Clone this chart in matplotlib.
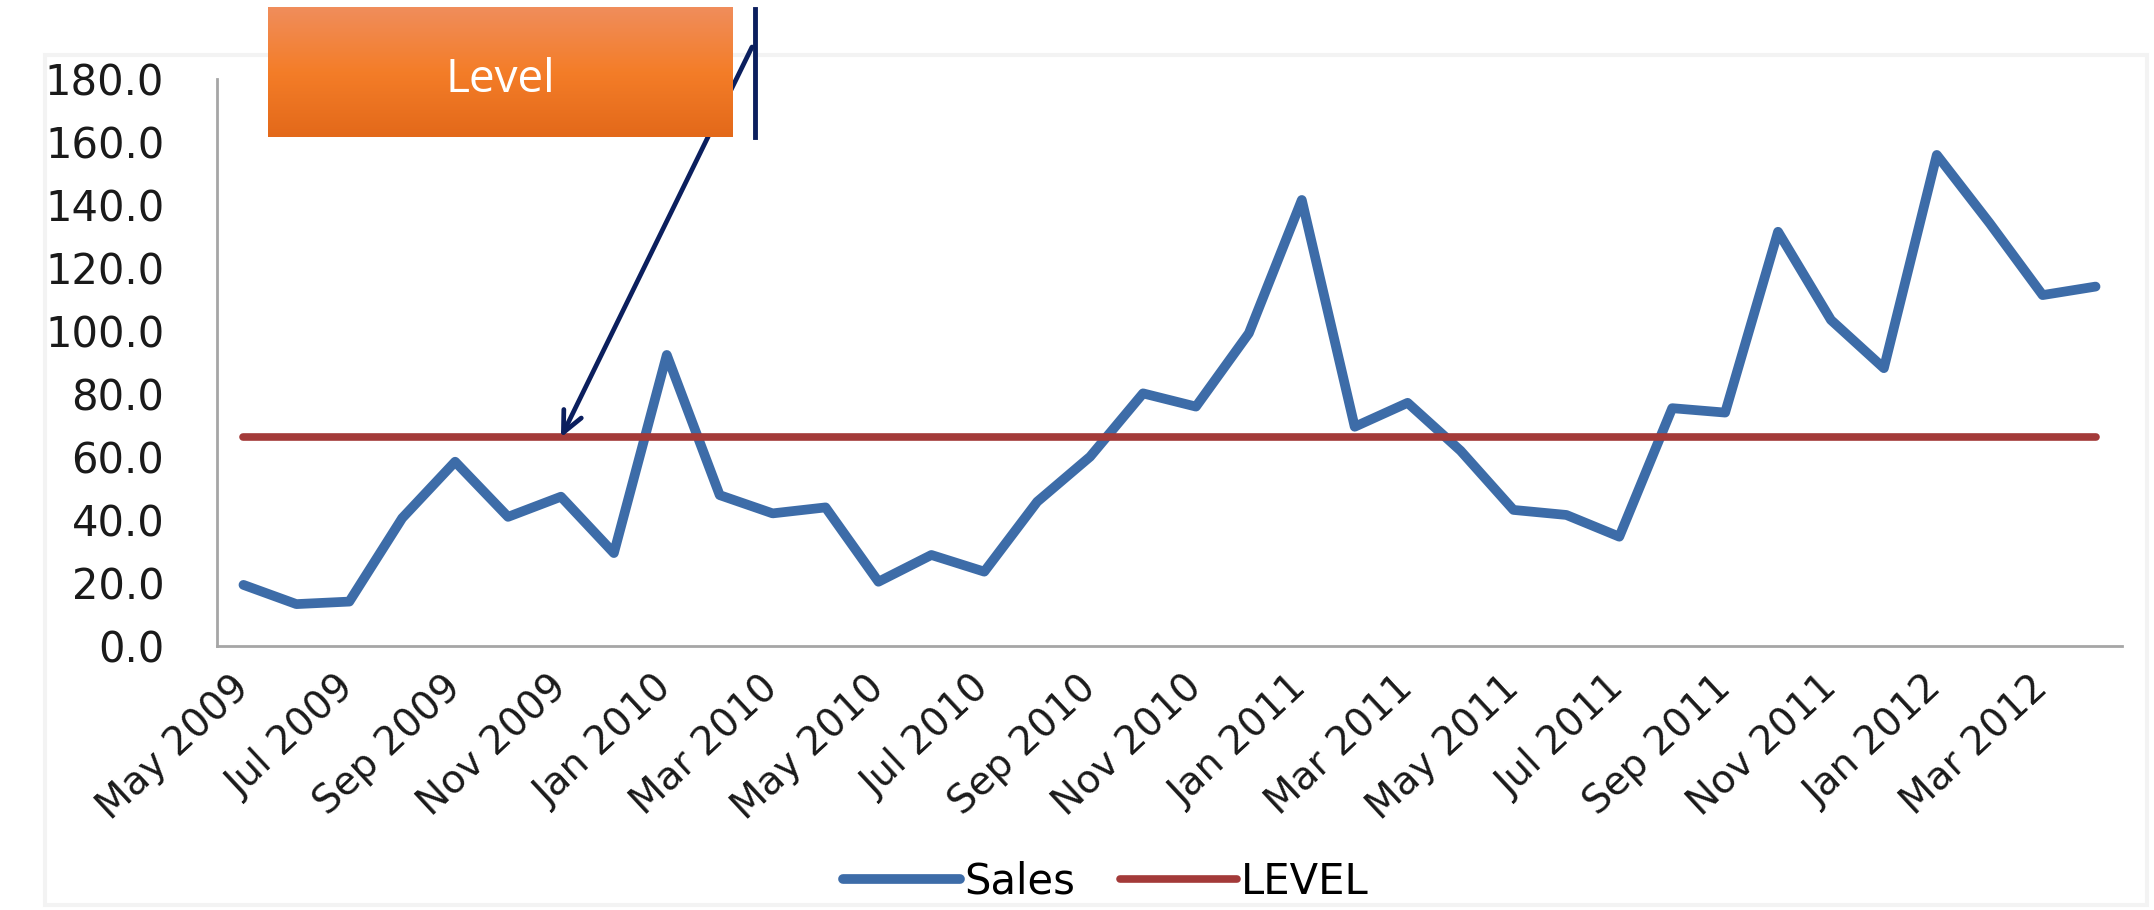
import numpy as np
import matplotlib
matplotlib.use("Agg")
import matplotlib.pyplot as plt
from matplotlib.colors import LinearSegmentedColormap
from matplotlib.transforms import ScaledTranslation
from matplotlib.patches import Rectangle
from matplotlib.lines import Line2D

# Monthly sales, May 2009 .. Apr 2012
months = ["May 2009", "Jun 2009", "Jul 2009", "Aug 2009", "Sep 2009", "Oct 2009",
          "Nov 2009", "Dec 2009", "Jan 2010", "Feb 2010", "Mar 2010", "Apr 2010",
          "May 2010", "Jun 2010", "Jul 2010", "Aug 2010", "Sep 2010", "Oct 2010",
          "Nov 2010", "Dec 2010", "Jan 2011", "Feb 2011", "Mar 2011", "Apr 2011",
          "May 2011", "Jun 2011", "Jul 2011", "Aug 2011", "Sep 2011", "Oct 2011",
          "Nov 2011", "Dec 2011", "Jan 2012", "Feb 2012", "Mar 2012", "Apr 2012"]
sales = [19.4, 13.3, 14.1, 40.6, 58.5, 41.0, 47.4, 29.5, 92.4, 47.9, 42.1, 44.0,
         20.4, 28.9, 23.6, 45.8, 60.1, 80.2, 76.0, 99.3, 141.6, 69.6, 77.2, 62.0,
         43.2, 41.6, 34.7, 75.5, 74.1, 131.5, 103.5, 88.2, 155.9, 134.2, 111.4, 114.1]
level = 66.2
level_series = [level] * len(months)
yticks = [0, 20, 40, 60, 80, 100, 120, 140, 160, 180]

plt.rcParams['font.family'] = ['DejaVu Sans']

W, H = 2154, 910
fig = plt.figure(figsize=(W / 100, H / 100), dpi=100)

# faint chart-area frame, kept behind everything else
frame = Rectangle((45 / W, 1 - 905 / H), 2102 / W, 850 / H,
                  transform=fig.transFigure, facecolor="none",
                  edgecolor="#f3f3f3", lw=3, zorder=-5)
fig.patches.append(frame)

ax = fig.add_axes([217 / W, 1 - 646 / H, (2122 - 217) / W, (646 - 79) / H])
ax.patch.set_alpha(0)
x = np.arange(len(months))
ax.plot(x, sales, color="#3d6ca8", lw=7, solid_joinstyle="round",
        solid_capstyle="round", label="Sales")
ax.plot(x, level_series, color="#a33a39", lw=5.5, solid_capstyle="round",
        label="LEVEL")

ax.set_xlim(-0.5, len(months) - 0.5)
ax.set_ylim(0, 180)
ax.set_yticks(yticks)
ax.set_yticklabels([f"{v:.1f}" for v in yticks])
ax.set_xticks(x[::2])
ax.set_xticklabels(months[::2], rotation=43, ha="right", va="center",
                   rotation_mode="anchor")
for lab in ax.get_xticklabels():
    lab.set_transform(lab.get_transform()
                      + ScaledTranslation(0.1, 0, fig.dpi_scale_trans))

ax.tick_params(axis="y", length=0, pad=38, labelsize=30, labelcolor="#1a1a1a")
ax.tick_params(axis="x", length=0, pad=26, labelsize=28, labelcolor="#1a1a1a")
for side in ("top", "right"):
    ax.spines[side].set_visible(False)
for side in ("left", "bottom"):
    ax.spines[side].set_color("#a6a6a6")
    ax.spines[side].set_linewidth(2)

fig.legend(loc="center", bbox_to_anchor=(1106 / W, 1 - 882 / H), ncol=2,
           frameon=False, fontsize=30, handlelength=2.8, handletextpad=0.1,
           columnspacing=1.1)

# orange "Level" callout box with vertical gradient
box = fig.add_axes([268 / W, 1 - 137 / H, 465 / W, 130 / H])
cmap = LinearSegmentedColormap.from_list("orange", ["#f08d5b", "#f47d28", "#e3691a"])
box.imshow(np.linspace(0, 1, 100).reshape(-1, 1), aspect="auto", cmap=cmap,
           extent=[0, 1, 0, 1])
box.set_axis_off()
box.text(0.5, 0.44, "Level", color="white", fontsize=33, ha="center",
         va="center", family=["Open Sans", "DejaVu Sans"])

fig.lines.append(Line2D([755 / W, 755 / W], [1 - 9 / H, 1 - 137 / H],
                        transform=fig.transFigure, color="#0b1f5e", lw=3.5))

# arrow from the callout down to the level line
ax.annotate("", xy=(6, level), xycoords="data",
            xytext=(752 / W, 1 - 47 / H), textcoords="figure fraction",
            arrowprops=dict(arrowstyle="->,head_length=1.5,head_width=0.7",
                            color="#0b1f5e", lw=3.4, shrinkA=0, shrinkB=0),
            annotation_clip=False)

fig.savefig("out.png", dpi=100, facecolor="white")
